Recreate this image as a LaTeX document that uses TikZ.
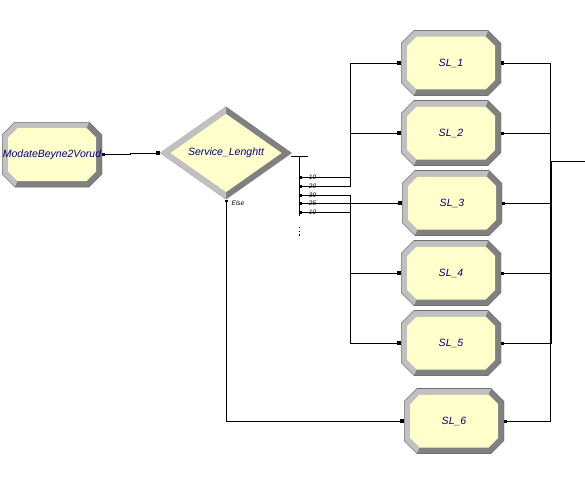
\documentclass[tikz,border=0pt]{standalone}
\usepackage{fontspec}
\newfontfamily\arialfont{Liberation Sans}
\usetikzlibrary{calc,arrows.meta}
\definecolor{lgray}{HTML}{C0C0C0}
\definecolor{dgray}{HTML}{808080}
\definecolor{edgegray}{HTML}{707070}
\definecolor{pyellow}{HTML}{FFFFCC}
\definecolor{navytext}{HTML}{000080}
\tikzset{
  procbox/.style={minimum width=100pt, minimum height=65pt, inner sep=0pt, outer sep=0pt,
    text=navytext, font=\arialfont\itshape\fontsize{10.5}{12}\selectfont,
    path picture={
      \fill[dgray, draw=edgegray, line width=0.6pt] let \p1=(path picture bounding box.south west), \p2=(path picture bounding box.north east) in
        (\x1+13pt,\y2) -- (\x2-13pt,\y2) -- (\x2,\y2-13pt) -- (\x2,\y1+13pt) -- (\x2-13pt,\y1) -- (\x1+13pt,\y1) -- (\x1,\y1+13pt) -- (\x1,\y2-13pt) -- cycle;
      \fill[lgray] let \p1=(path picture bounding box.south west), \p2=(path picture bounding box.north east) in
        (\x1+13pt,\y1+0.5pt) -- (\x1+0.5pt,\y1+13pt) -- (\x1+0.5pt,\y2-13pt) -- (\x1+13pt,\y2-0.5pt) -- (\x2-13pt,\y2-0.5pt) -- (\x2-15.5pt,\y2-6pt) -- (\x1+15.5pt,\y2-6pt) -- (\x1+6pt,\y2-15.5pt) -- (\x1+6pt,\y1+15.5pt) -- (\x1+15.5pt,\y1+6pt) -- cycle;
      \fill[pyellow] let \p1=(path picture bounding box.south west), \p2=(path picture bounding box.north east) in
        (\x1+15.5pt,\y2-6pt) -- (\x2-15.5pt,\y2-6pt) -- (\x2-6pt,\y2-15.5pt) -- (\x2-6pt,\y1+15.5pt) -- (\x2-15.5pt,\y1+6pt) -- (\x1+15.5pt,\y1+6pt) -- (\x1+6pt,\y1+15.5pt) -- (\x1+6pt,\y2-15.5pt) -- cycle;
    }},
  decbox/.style={minimum width=132pt, minimum height=93pt, inner sep=0pt, outer sep=0pt,
    text=navytext, font=\arialfont\itshape\fontsize{10.5}{12}\selectfont,
    path picture={
      \fill[dgray] let \p1=(path picture bounding box.west), \p2=(path picture bounding box.north), \p3=(path picture bounding box.east), \p4=(path picture bounding box.south) in
        (\p1) -- (\p2) -- (\p3) -- (\p4) -- cycle;
      \fill[lgray] let \p1=(path picture bounding box.west), \p2=(path picture bounding box.north), \p3=(path picture bounding box.east), \p4=(path picture bounding box.south) in
        (\p4) -- (\p1) -- (\p2) -- (\x2,\y2-7.4pt) -- (\x1+10.4pt,\y1) -- (\x4,\y4+7.4pt) -- cycle;
      \fill[pyellow] let \p1=(path picture bounding box.west), \p2=(path picture bounding box.north), \p3=(path picture bounding box.east), \p4=(path picture bounding box.south) in
        (\x1+10.4pt,\y1) -- (\x2,\y2-7.4pt) -- (\x3-10.4pt,\y3) -- (\x4,\y4+7.4pt) -- cycle;
    }},
  conn/.style={draw=black, line width=0.9pt},
  outmark/.style={{Square[length=2.5pt,width=3pt]}-},
  bothmark/.style={{Square[length=2.5pt,width=3pt]}-{Square[length=4pt,width=4pt]}},
  brlab/.style={inner sep=0pt, font=\arialfont\itshape\fontsize{6.5}{7}\selectfont, text=black},
}
\begin{document}
\begin{tikzpicture}[x=1pt, y=-1pt]
\useasboundingbox (0,0) rectangle (585,484);
% modules
\node[procbox] (mb) at (52,154.5) {ModateBeyne2Vorud};
\node[decbox] (dia) at (226,153) {Service\_Lenghtt};
\node[procbox] (sl1) at (451,63) {SL\_1};
\node[procbox] (sl2) at (451,133) {SL\_2};
\node[procbox] (sl3) at (452,203) {SL\_3};
\node[procbox] (sl4) at (451,273) {SL\_4};
\node[procbox] (sl5) at (451,343) {SL\_5};
\node[procbox] (sl6) at (454,421) {SL\_6};
% helper points
\coordinate (tl) at (291,156);
\coordinate (tr) at (308,156);
\coordinate (tv) at (299,156);
\coordinate (tb) at (299,216);
\coordinate (o1) at (299,177);
\coordinate (o2) at (299,186);
\coordinate (o3) at (299,195);
\coordinate (o4) at (299,203);
\coordinate (o5) at (299,212);
\coordinate (jn) at (550,161);
\coordinate (outR) at (585,161);
% connectors
\draw[conn, bothmark] (mb.east) -- ++(28,0) |- (dia.west);
\draw[conn] (tl) -- (tr);
\draw[conn] (tv) -- (tb);
\draw[conn, bothmark] (o1) -- ++(51,0) |- (sl1.west);
\draw[conn, bothmark] (o2) -- ++(51,0) |- (sl2.west);
\draw[conn, bothmark] (o3) -- ++(51,0) |- (sl3.west);
\draw[conn, bothmark] (o4) -- ++(51,0) |- (sl4.west);
\draw[conn, bothmark] (o5) -- ++(51,0) |- (sl5.west);
\draw[conn, bothmark] (dia.south) |- (sl6.west);
\draw[conn, outmark] (sl1.east) -| (jn);
\draw[conn, outmark] (sl2.east) -| (jn);
\draw[conn, outmark] (sl3.east) -| ([xshift=1pt]jn);
\draw[conn, outmark] (sl4.east) -| ([xshift=1pt]jn);
\draw[conn, outmark] (sl5.east) -| ([xshift=1pt]jn);
\draw[conn, outmark] (sl6.east) -| (jn);
\draw[conn] (jn) -- (outR);
% branch labels
\node[brlab] (l1) at (312.5,177) {10};
\node[brlab] (l2) at (312.5,186) {20};
\node[brlab] (l3) at (312.5,195) {30};
\node[brlab] (l4) at (312.5,203.5) {25};
\node[brlab] (l5) at (312.5,212.5) {10};
\node[brlab, anchor=west] (lelse) at (231.5,203.5) {Else};
% continuation dots
\fill[black] (298.5,226.5) rectangle ++(1.2,1.5);
\fill[black] (298.5,230.5) rectangle ++(1.2,1.5);
\fill[black] (298.5,234) rectangle ++(1.2,1.5);
\end{tikzpicture}
\end{document}
